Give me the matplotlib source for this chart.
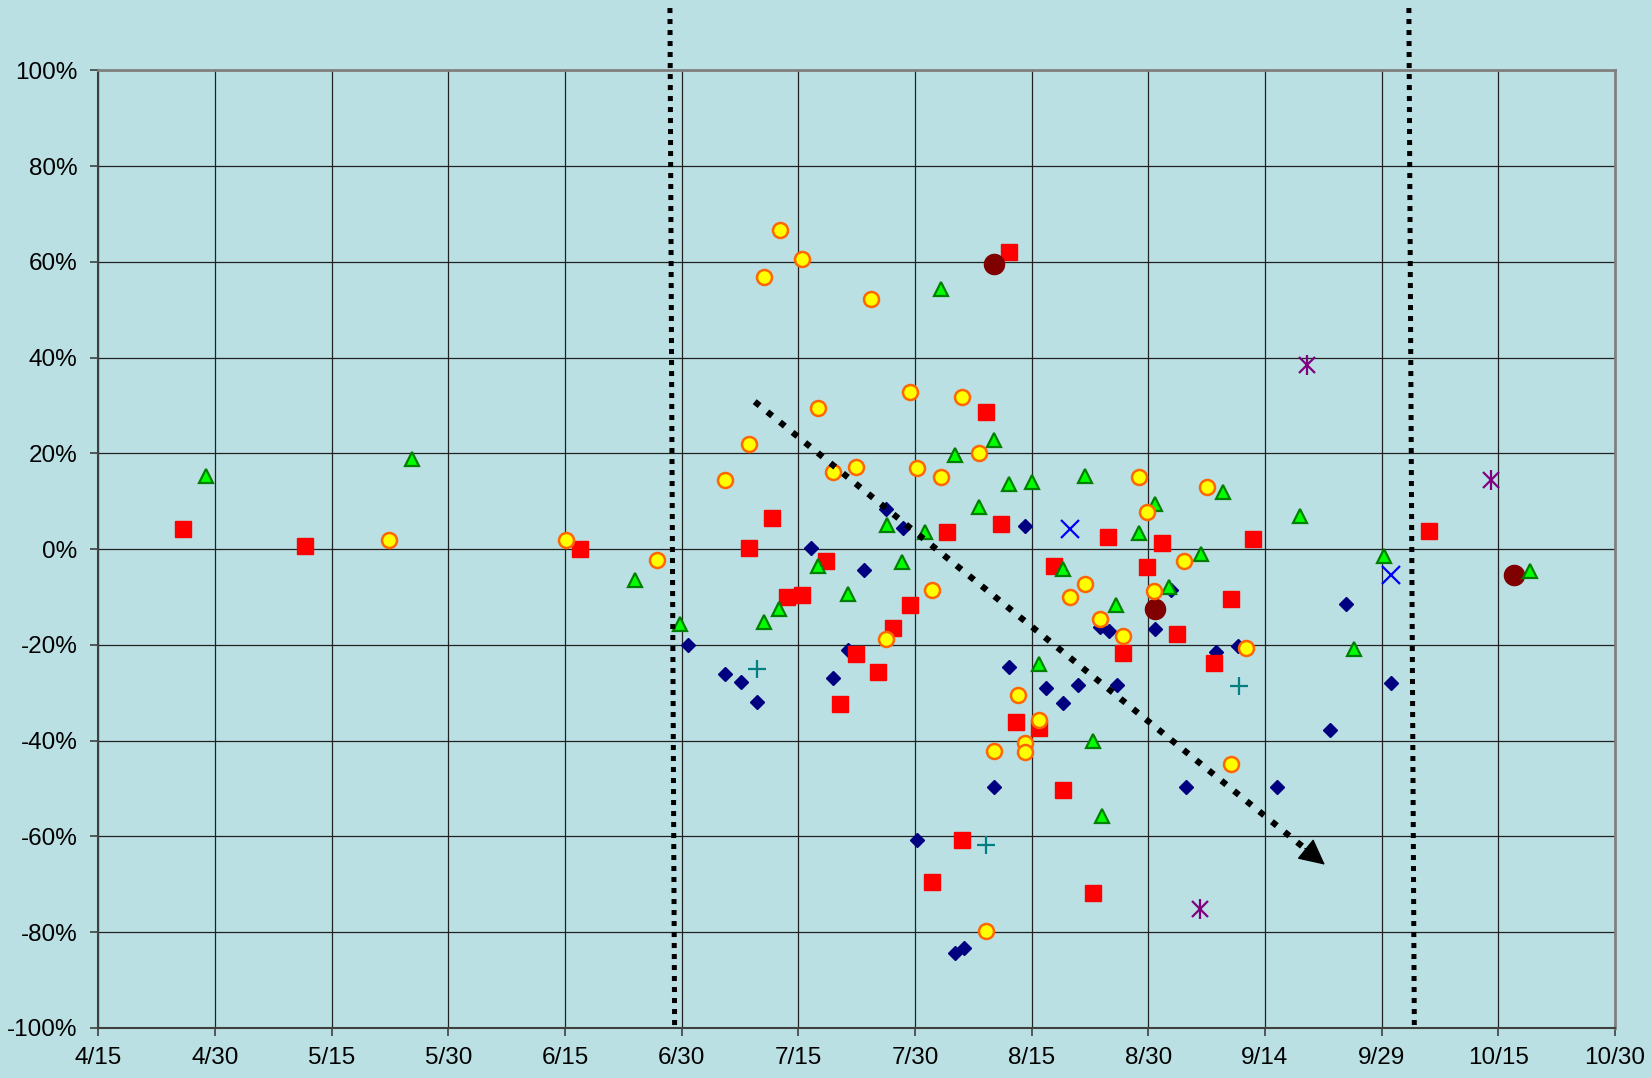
import numpy as np
import matplotlib
matplotlib.use('Agg')
import matplotlib.pyplot as plt

plt.rcParams['font.family'] = ['Liberation Sans', 'DejaVu Sans']

# x = days after 4/15, y = percent change
tick_days = np.arange(0, 196, 15)
tick_labels = ['4/15', '4/30', '5/15', '5/30', '6/15', '6/30', '7/15',
               '7/30', '8/15', '8/30', '9/14', '9/29', '10/15', '10/30']
y_ticks = np.arange(-100, 101, 20)

sq_x = [10.9, 26.6, 62.0, 83.6, 86.6, 88.6, 90.5, 93.5, 95.3, 97.4, 100.3,
        102.2, 104.3, 109.1, 111.1, 107.2, 114.1, 116.0, 117.1, 118.0, 121.0,
        122.9, 124.0, 127.9, 129.8, 131.8, 134.8, 136.7, 138.7, 143.5, 145.6,
        148.5, 171.1]
sq_y = [4.2, 0.7, 0.0, 0.2, 6.4, -9.9, -9.5, -2.4, -32.4, -22.0, -25.6,
        -16.5, -11.7, 3.5, -60.8, -69.6, 28.6, 5.3, 62.1, -36.1, -37.4,
        -3.5, -50.4, -71.8, 2.6, -21.6, -3.7, 1.3, -17.8, -23.8, -10.4,
        2.2, 3.7]

circ_x = [37.4, 60.1, 71.8, 80.6, 83.6, 85.6, 87.6, 90.5, 92.5, 94.4, 97.4,
          99.4, 101.3, 104.3, 105.2, 107.2, 108.3, 111.1, 113.2, 114.1, 115.2,
          118.2, 119.1, 119.1, 121.0, 124.9, 126.8, 128.8, 131.8, 133.8, 134.8,
          135.7, 139.6, 142.6, 145.6, 147.5]
circ_y = [2.0, 2.0, -2.2, 14.5, 22.0, 56.8, 66.7, 60.6, 29.5, 16.1, 17.2,
          52.2, -18.7, 32.8, 17.0, -8.6, 15.0, 31.7, 20.0, -79.7, -42.1,
          -30.4, -40.5, -42.3, -35.7, -10.1, -7.3, -14.5, -18.1, 15.0, 7.7,
          -8.8, -2.4, 13.0, -44.9, -20.7]

tri_x = [13.9, 40.4, 69.0, 74.8, 85.6, 87.5, 92.5, 96.4, 101.4, 103.3, 106.3,
         108.3, 110.2, 113.2, 115.2, 117.1, 120.1, 121.0, 124.0, 126.9, 127.9,
         129.0, 130.9, 133.8, 135.9, 137.7, 141.8, 144.6, 154.5, 161.4, 165.3,
         184.1]
tri_y = [15.2, 18.9, -6.4, -15.6, -15.2, -12.6, -3.5, -9.3, 5.1, -2.6, 3.5,
         54.4, 19.6, 8.8, 22.7, 13.7, 14.1, -24.0, -4.2, 15.2, -40.1,
         -55.7, -11.7, 3.3, 9.5, -7.9, -1.1, 11.9, 7.0, -20.9, -1.5,
         -4.6]

dia_x = [75.8, 80.6, 82.6, 84.7, 91.6, 94.4, 96.4, 98.4, 101.3, 103.4, 105.3,
         110.2, 111.3, 115.2, 117.1, 119.1, 121.9, 124.0, 126.0, 128.8, 129.9,
         131.0, 135.9, 137.9, 139.8, 143.7, 146.5, 151.5, 158.4, 160.4, 166.2]
dia_y = [-20.0, -26.0, -27.8, -31.9, 0.2, -26.9, -21.1, -4.4, 8.4, 4.4, -60.8,
         -84.4, -83.3, -49.6, -24.7, 4.8, -28.9, -32.2, -28.4, -16.3, -17.2,
         -28.4, -16.7, -8.6, -49.6, -21.4, -20.3, -49.6, -37.7, -11.5, -28.0]

plus_x = [84.7, 114.1, 146.7]
plus_y = [-25.1, -61.7, -28.6]

cross_x = [124.9, 166.2]
cross_y = [4.2, -5.3]

star_x = [155.4, 179.1, 141.7]
star_y = [38.5, 14.5, -75.1]

dot_x = [115.2, 135.9, 182.0]
dot_y = [59.5, -12.6, -5.3]

# vertical dotted markers (slightly slanted in the original)
vline1_x = [73.5, 74.1]
vline2_x = [168.5, 169.2]
vline_y = [113, -100]

# trend arrow
arrow_x = [84.4, 157.7]
arrow_y = [30.8, -65.9]

bg = '#BAE0E3'
fig = plt.figure(figsize=(16.51, 10.78), dpi=100, facecolor=bg)
ax = fig.add_axes([0.0595, 0.0464, 0.9187, 0.8884])
ax.set_facecolor(bg)

ax.plot(dia_x, dia_y, 'D', ms=7.3, color='#000080', zorder=3)
ax.plot(sq_x, sq_y, 's', ms=11.5, color='#FF0000', zorder=4)
ax.plot(dot_x, dot_y, 'o', ms=14.5, color='#800000', zorder=5)
ax.plot(tri_x, tri_y, '^', ms=10.5, mfc='#00FF00', mec='#008000', mew=1.6, zorder=6)
ax.plot(circ_x, circ_y, 'o', ms=10.8, mfc='#FFFF00', mec='#FF6600', mew=1.8, zorder=7)
ax.plot(plus_x, plus_y, '+', ms=13, color='#008080', mew=1.6, zorder=8)
ax.plot(cross_x, cross_y, 'x', ms=13, color='#0000FF', mew=1.6, zorder=8)
ax.plot(star_x, star_y, 'x', ms=11, color='#800080', mew=1.6, zorder=8)
ax.plot(star_x, star_y, '|', ms=14, color='#800080', mew=1.6, zorder=8)

for vx in (vline1_x, vline2_x):
    ax.plot(vx, vline_y, color='black', lw=3.6, ls=(0, (1, 1.2)),
            solid_capstyle='butt', dash_capstyle='butt', clip_on=False, zorder=9)

# dotted shaft + solid head
frac = 0.965
hx = arrow_x[0] + frac * (arrow_x[1] - arrow_x[0])
hy = arrow_y[0] + frac * (arrow_y[1] - arrow_y[0])
ax.plot([arrow_x[0], hx], [arrow_y[0], hy], color='black', lw=4.5,
        ls=(0, (1, 1.6)), dash_capstyle='butt', zorder=9)
ax.annotate('', xy=(arrow_x[1], arrow_y[1]), xytext=(hx, hy),
            arrowprops=dict(arrowstyle='-|>,head_length=1.1,head_width=0.55',
                            color='black', lw=1, mutation_scale=15,
                            shrinkA=0, shrinkB=0),
            zorder=10)

ax.set_xlim(0, 195)
ax.set_ylim(-100, 100)
ax.set_xticks(tick_days)
ax.set_xticklabels(tick_labels)
ax.set_yticks(y_ticks)
ax.set_yticklabels([f'{v}%' for v in y_ticks])
ax.tick_params(axis='both', direction='out', length=6, width=1.2,
               color='#404040', labelsize=17.5, labelcolor='black')
ax.tick_params(axis='x', pad=8)
ax.tick_params(axis='y', pad=9)

ax.grid(True, color='#222222', lw=0.9, zorder=0)
ax.set_axisbelow(True)

for side in ('top', 'right'):
    ax.spines[side].set_color('#808080')
    ax.spines[side].set_linewidth(2)
for side in ('left', 'bottom'):
    ax.spines[side].set_color('#404040')
    ax.spines[side].set_linewidth(1.5)

plt.savefig('out.png', dpi=100, facecolor=bg)
